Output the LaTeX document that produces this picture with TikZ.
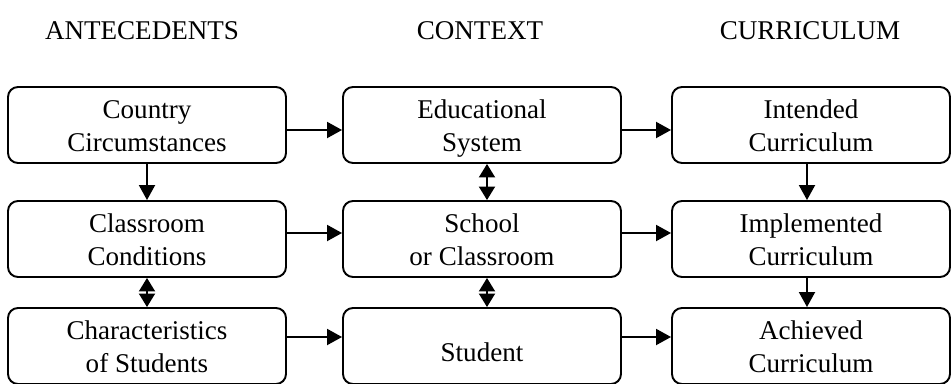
\documentclass[tikz,border=0pt]{standalone}
\usepackage{fontspec}
\setmainfont{Liberation Serif}
\usetikzlibrary{arrows.meta}

\begin{document}
\begin{tikzpicture}[every node/.append style={font = \fontsize{15.4}{18.6}\selectfont, align = center},
  head/.style={execute at begin node = \rule{0pt}{0.66cm}, execute at end node = \strut},
  box/.style={draw, line width = 1.1pt, rounded corners = 0.2cm, minimum width = 5.56cm, minimum height = 1.52cm, inner sep = 0pt, text height = 1.04cm, text depth = 0pt},
  arr/.style={-{Triangle[length = 0.3cm, width = 0.32cm]}, line width = 1.1pt},
  darr/.style={{Triangle[length = 0.27cm, width = 0.32cm]}-{Triangle[length = 0.27cm, width = 0.32cm]}, line width = 1.1pt}]

  \useasboundingbox (0, 0) rectangle (19.04, -7.68);

  \node [head] (ant) at (2.84, -0.56) {ANTECEDENTS};
  \node [head] (ctx) at (9.6, -0.56) {CONTEXT};
  \node [head] (cur) at (16.2, -0.56) {CURRICULUM};

  \node [box] (country) at (2.94, -2.5) {Country\\Circumstances};
  \node [box] (edusys) at (9.64, -2.5) {Educational\\System};
  \node [box] (intended) at (16.22, -2.5) {Intended\\Curriculum};

  \node [box] (classcond) at (2.94, -4.78) {Classroom\\Conditions};
  \node [box] (school) at (9.64, -4.78) {School\\or Classroom};
  \node [box] (implemented) at (16.22, -4.78) {Implemented\\Curriculum};

  \node [box] (charstud) at (2.94, -6.92) {Characteristics\\of Students};
  \node [box, text height = 0.6cm] (student) at (9.64, -6.92) {Student};
  \node [box] (achieved) at (16.22, -6.92) {Achieved\\Curriculum};

  \draw [arr] ([yshift = -0.1cm]country.east) -- ([yshift = -0.1cm]edusys.west);
  \draw [arr] ([yshift = -0.1cm]edusys.east) -- ([yshift = -0.1cm]intended.west);
  \draw [arr] ([yshift = 0.12cm]classcond.east) -- ([yshift = 0.12cm]school.west);
  \draw [arr] ([yshift = 0.12cm]school.east) -- ([yshift = 0.12cm]implemented.west);
  \draw [arr] ([yshift = 0.18cm]charstud.east) -- ([yshift = 0.18cm]student.west);
  \draw [arr] ([yshift = 0.18cm]student.east) -- ([yshift = 0.18cm]achieved.west);

  \draw [arr] (country.south) -- (classcond.north);
  \draw [darr] (classcond.south) -- (charstud.north);
  \draw [darr] ([xshift = 0.1cm]edusys.south) -- ([xshift = 0.1cm]school.north);
  \draw [darr] ([xshift = 0.1cm]school.south) -- ([xshift = 0.1cm]student.north);
  \draw [arr] ([xshift = -0.08cm]intended.south) -- ([xshift = -0.08cm]implemented.north);
  \draw [arr] ([xshift = -0.08cm]implemented.south) -- ([xshift = -0.08cm]achieved.north);

\end{tikzpicture}
\end{document}
